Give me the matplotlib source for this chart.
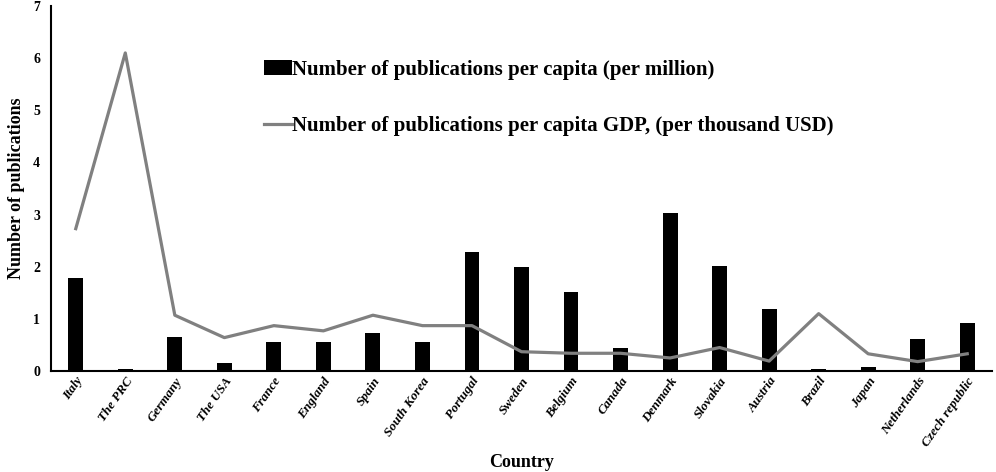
import numpy as np
import matplotlib
matplotlib.use("Agg")
import matplotlib.pyplot as plt

plt.rcParams["font.family"] = ["Liberation Serif", "DejaVu Serif"]
plt.rcParams["font.weight"] = "bold"

# 数据
countries = ["Italy", "The PRC", "Germany", "The USA", "France", "England", "Spain",
             "South Korea", "Portugal", "Sweden", "Belgium", "Canada", "Denmark",
             "Slovakia", "Austria", "Brazil", "Japan", "Netherlands", "Czech republic"]
per_million = [1.78, 0.04, 0.66, 0.16, 0.56, 0.55, 0.72, 0.55, 2.28, 1.99, 1.52,
               0.44, 3.03, 2.02, 1.19, 0.04, 0.08, 0.61, 0.92]
per_gdp = [2.73, 6.10, 1.07, 0.64, 0.87, 0.77, 1.07, 0.87, 0.87, 0.37, 0.34,
           0.34, 0.25, 0.45, 0.19, 1.10, 0.33, 0.18, 0.33]

fig = plt.figure(figsize=(9.96, 4.72), dpi=100)
ax = fig.add_axes([51 / 996, 1 - 371 / 472, 941 / 996, 365 / 472])

x = np.arange(len(countries))
bars = ax.bar(x, per_million, width=0.3, color="black",
              label="Number of publications per capita (per million)")
line, = ax.plot(x, per_gdp, color="#808080", linewidth=2.3,
                label="Number of publications per capita GDP, (per thousand USD)")

ax.set_xlim(-0.5, len(countries) - 0.5)
ax.set_ylim(0, 7)
ax.set_yticks(range(0, 8))
ax.tick_params(axis="y", length=0, labelsize=10, pad=8)
ax.tick_params(axis="x", length=0, pad=3)
ax.set_xticks(x)
ax.set_xticklabels(countries, rotation=55, ha="right", rotation_mode="anchor",
                   fontsize=9.5, fontstyle="italic", fontweight="bold")

for s in ["top", "right"]:
    ax.spines[s].set_visible(False)
ax.spines["left"].set_linewidth(1.5)
ax.spines["bottom"].set_linewidth(1.5)

ax.set_ylabel("Number of publications", fontsize=13, fontweight="bold", labelpad=6)
ax.set_xlabel("Country", fontsize=13, fontweight="bold")
ax.xaxis.set_label_coords(0.5, -0.228)

ax.legend(handles=[bars, line], loc="upper left", bbox_to_anchor=(0.218, 0.875),
          frameon=False, handlelength=1.3, handletextpad=0.0, labelspacing=1.75,
          borderaxespad=0, prop={"weight": "bold", "size": 15})

fig.savefig("out.png", dpi=100)
